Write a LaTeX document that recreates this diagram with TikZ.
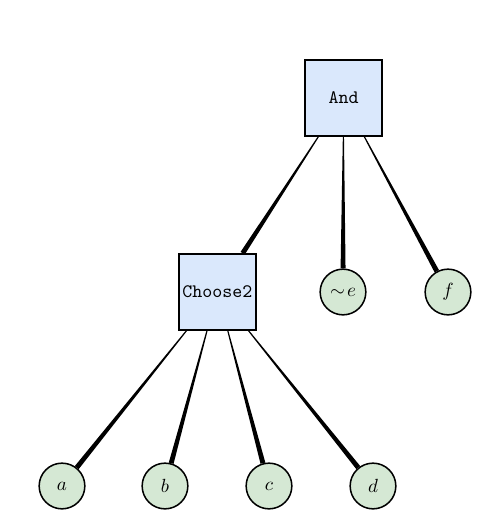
\documentclass[tikz,border=0pt]{standalone}
\usetikzlibrary{calc}
\definecolor{boxfill}{HTML}{DAE8FC}
\definecolor{leaffill}{HTML}{D5E8D4}
\tikzset{
  gate/.style={draw=black, line width=0.8pt, fill=boxfill, minimum width=40.4pt, minimum height=39.9pt, inner sep=0pt, font=\ttfamily},
  leaf/.style={draw=black, line width=0.8pt, fill=leaffill, circle, minimum size=24pt, inner sep=0pt},
}
\newcommand{\wedgeedge}[2]{%
  \path (#1) -- (#2) coordinate[pos=0] (ws) coordinate[pos=1] (we);
  \fill[black] ($(ws)!0.3pt!90:(we)$) -- ($(we)!1.3pt!-90:(ws)$) -- ($(we)!1.3pt!90:(ws)$) -- ($(ws)!0.3pt!-90:(we)$) -- cycle;
}
\begin{document}
\begin{tikzpicture}[x=0.525pt, y=-0.525pt]
\useasboundingbox (0,0) rectangle (502,527);
\node[gate] (and) at (343.5,98) {And};
\node[gate] (ch) at (217.5,292) {Choose2};
\node[leaf] (e) at (343,292) {$\sim\!e$};
\node[leaf] (f) at (448,292) {$f$};
\node[leaf] (a) at (62,486) {$a$};
\node[leaf] (b) at (165,486) {$b$};
\node[leaf] (c) at (269,486) {$c$};
\node[leaf] (d) at (373,486) {$d$};
\wedgeedge{and}{ch}
\wedgeedge{and}{e}
\wedgeedge{and}{f}
\wedgeedge{ch}{a}
\wedgeedge{ch}{b}
\wedgeedge{ch}{c}
\wedgeedge{ch}{d}
\end{tikzpicture}
\end{document}
